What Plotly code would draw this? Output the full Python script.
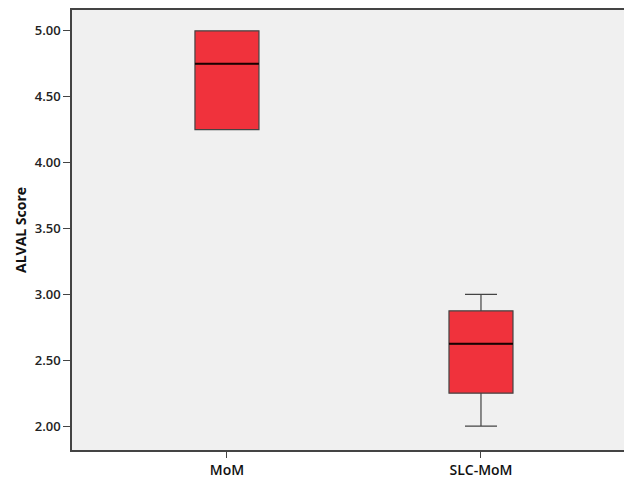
import plotly.graph_objects as go

categories = ["MoM", "SLC-MoM"]
q1 = [4.25, 2.25]
median = [4.75, 2.625]
q3 = [5.00, 2.875]
lower = [4.25, 2.00]
upper = [5.00, 3.00]
y_ticks = [2.0, 2.5, 3.0, 3.5, 4.0, 4.5, 5.0]

BOX_W = 0.252
fig = go.Figure()
for i, c in enumerate(categories):
    fig.add_trace(go.Box(
        x=[i], q1=[q1[i]], median=[median[i]], q3=[q3[i]],
        lowerfence=[lower[i]], upperfence=[upper[i]],
        name=c, width=BOX_W, whiskerwidth=0.5,
        fillcolor="#f0323c", line=dict(color="#444444", width=1.2),
        boxpoints=False, showlegend=False, hoverinfo="skip",
    ))
    fig.add_shape(type="line", xref="x", yref="y",
                  x0=i - BOX_W / 2, x1=i + BOX_W / 2, y0=median[i], y1=median[i],
                  line=dict(color="#1a0000", width=2))

fig.update_layout(
    width=616, height=471,
    margin=dict(l=64, r=0, t=1, b=27),
    paper_bgcolor="white", plot_bgcolor="#f0f0f0",
    font=dict(family="Open Sans", color="#222222"),
)
fig.update_xaxes(
    range=[-0.61, 1.563], tickvals=[0, 1], ticktext=categories,
    showgrid=False, zeroline=False, showline=True, linecolor="#444444", linewidth=1.5,
    mirror=True, ticks="outside", ticklen=6, tickcolor="#444444",
    tickfont=dict(size=14, color="#111111", weight=600),
)
fig.update_yaxes(
    range=[1.819, 5.158], tickvals=y_ticks, ticktext=[f"{v:.2f}" for v in y_ticks],
    showgrid=False, zeroline=False, showline=True, linecolor="#444444", linewidth=1.5,
    ticks="outside", ticklen=7, tickcolor="#444444",
    tickfont=dict(size=13, color="#222222", weight=600),
    title=dict(text="<b>ALVAL Score</b>", font=dict(size=14, color="#111111"), standoff=5),
)
fig.write_html("out.html")
